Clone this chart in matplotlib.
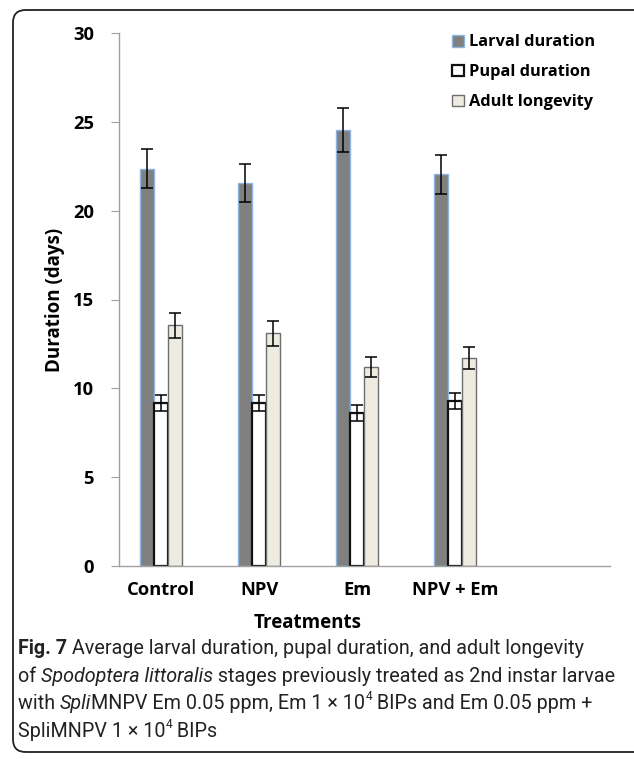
import numpy as np
import matplotlib
matplotlib.use("Agg")
import matplotlib.pyplot as plt
from matplotlib.patches import FancyBboxPatch

# data
treatments = ["Control", "NPV", "Em", "NPV + Em"]
larval = [22.35, 21.55, 24.55, 22.05]
larval_err = [1.1, 1.05, 1.25, 1.1]
pupal = [9.2, 9.2, 8.6, 9.3]
pupal_err = [0.45, 0.45, 0.45, 0.45]
adult = [13.55, 13.1, 11.2, 11.7]
adult_err = [0.7, 0.7, 0.55, 0.6]
series_names = ["Larval duration", "Pupal duration", "Adult longevity"]

W, H = 634, 759
fig = plt.figure(figsize=(W / 100, H / 100), dpi=100)

# rounded frame round the whole panel
frame = FancyBboxPatch((13 / W, 1 - 752 / H), 640 / W, (752 - 10) / H,
                       boxstyle="round,pad=0,rounding_size=0.02",
                       transform=fig.transFigure, fill=False, lw=1.3,
                       ec="#222222", mutation_aspect=W / H)
fig.patches.append(frame)

ax = fig.add_axes([119 / W, 1 - 566 / H, (610 - 119) / W, (566 - 33) / H])
x = np.arange(len(treatments))
bw = 0.143
ekw = dict(ecolor="black", elinewidth=1.1, capsize=4, capthick=1.1)
ax.bar(x - bw, larval, bw, yerr=larval_err, color="#808080", edgecolor="#8db4e2",
       linewidth=1.0, error_kw=ekw, label=series_names[0], zorder=2)
ax.bar(x, pupal, bw, yerr=pupal_err, color="white", edgecolor="#111111",
       linewidth=1.6, error_kw=ekw, label=series_names[1], zorder=2)
ax.bar(x + bw, adult, bw, yerr=adult_err, color="#eeece1", edgecolor="#6e6e6e",
       linewidth=1.0, error_kw=ekw, label=series_names[2], zorder=2)

ax.set_xlim(-0.43, 4.58)
ax.set_ylim(0, 30)
ax.set_yticks(np.arange(0, 31, 5))
ax.set_xticks(x)
ax.set_xticklabels(treatments)
for s in ["top", "right"]:
    ax.spines[s].set_visible(False)
for s in ["left", "bottom"]:
    ax.spines[s].set_color("#a0a0a0")
    ax.spines[s].set_linewidth(1.0)
ax.tick_params(axis="y", length=6, color="#a0a0a0", pad=12)
ax.tick_params(axis="x", length=0, pad=11)
for lab in ax.get_xticklabels() + ax.get_yticklabels():
    lab.set_fontfamily("Open Sans")
    lab.set_fontweight("bold")
    lab.set_fontsize(13.2)
ax.set_xlabel("Treatments", fontfamily="Open Sans", fontweight="bold",
              fontsize=13.5)
ax.xaxis.set_label_coords((308 - 119) / 491, -(623 - 566) / 533)
ax.xaxis.label.set_va("center")
ax.set_ylabel("Duration (days)", fontfamily="Open Sans", fontweight="bold",
              fontsize=13.5, labelpad=6)

leg = ax.legend(loc="upper left", bbox_to_anchor=(0.649, 1.025), frameon=False,
                prop={"family": "Open Sans", "weight": "bold", "size": 11.8},
                handlelength=0.72, handleheight=0.72, handletextpad=0.3,
                labelspacing=0.85)

# caption, drawn as runs of differently styled text
cap_lines = [
    [("Fig. 7", "bold"), (" Average larval duration, pupal duration, and adult longevity", "normal")],
    [("of ", "normal"), ("Spodoptera littoralis", "italic"),
     (" stages previously treated as 2nd instar larvae", "normal")],
    [("with ", "normal"), ("Spli", "italic"), ("MNPV Em 0.05 ppm, Em 1 \u00d7 10", "normal"),
     ("4", "sup"), (" BIPs and Em 0.05 ppm +", "normal")],
    [("SpliMNPV 1 \u00d7 10", "normal"), ("4", "sup"), (" BIPs", "normal")],
]
cap_y = [648, 676, 703, 731]
cap_right = [617, 616, 603, None]
fig.canvas.draw()
r = fig.canvas.get_renderer()


def draw_line(line, yp, fs, measure=False):
    xp = 18
    made = []
    for txt, sty in line:
        kw = dict(family="Roboto", fontsize=fs, color="#222222", va="baseline")
        yy = 1 - (yp + 6) / H
        if sty == "bold":
            kw["fontweight"] = "bold"
        elif sty == "italic":
            kw["fontstyle"] = "italic"
        elif sty == "sup":
            kw["fontsize"] = fs * 0.6
            yy = 1 - (yp - 3) / H
        t = fig.text(xp / W, yy, txt, **kw)
        xp += t.get_window_extent(renderer=r).width
        made.append(t)
    if measure:
        for t in made:
            t.remove()
    return xp


# one common size so the longest lines fit the same width as the reference
scale = min((rt - 18) / (draw_line(ln, 0, 10, True) - 18)
            for ln, rt in zip(cap_lines, cap_right) if rt)
fs = 10 * scale
for line, yp in zip(cap_lines, cap_y):
    draw_line(line, yp, fs)

fig.savefig("out.png", dpi=100)
